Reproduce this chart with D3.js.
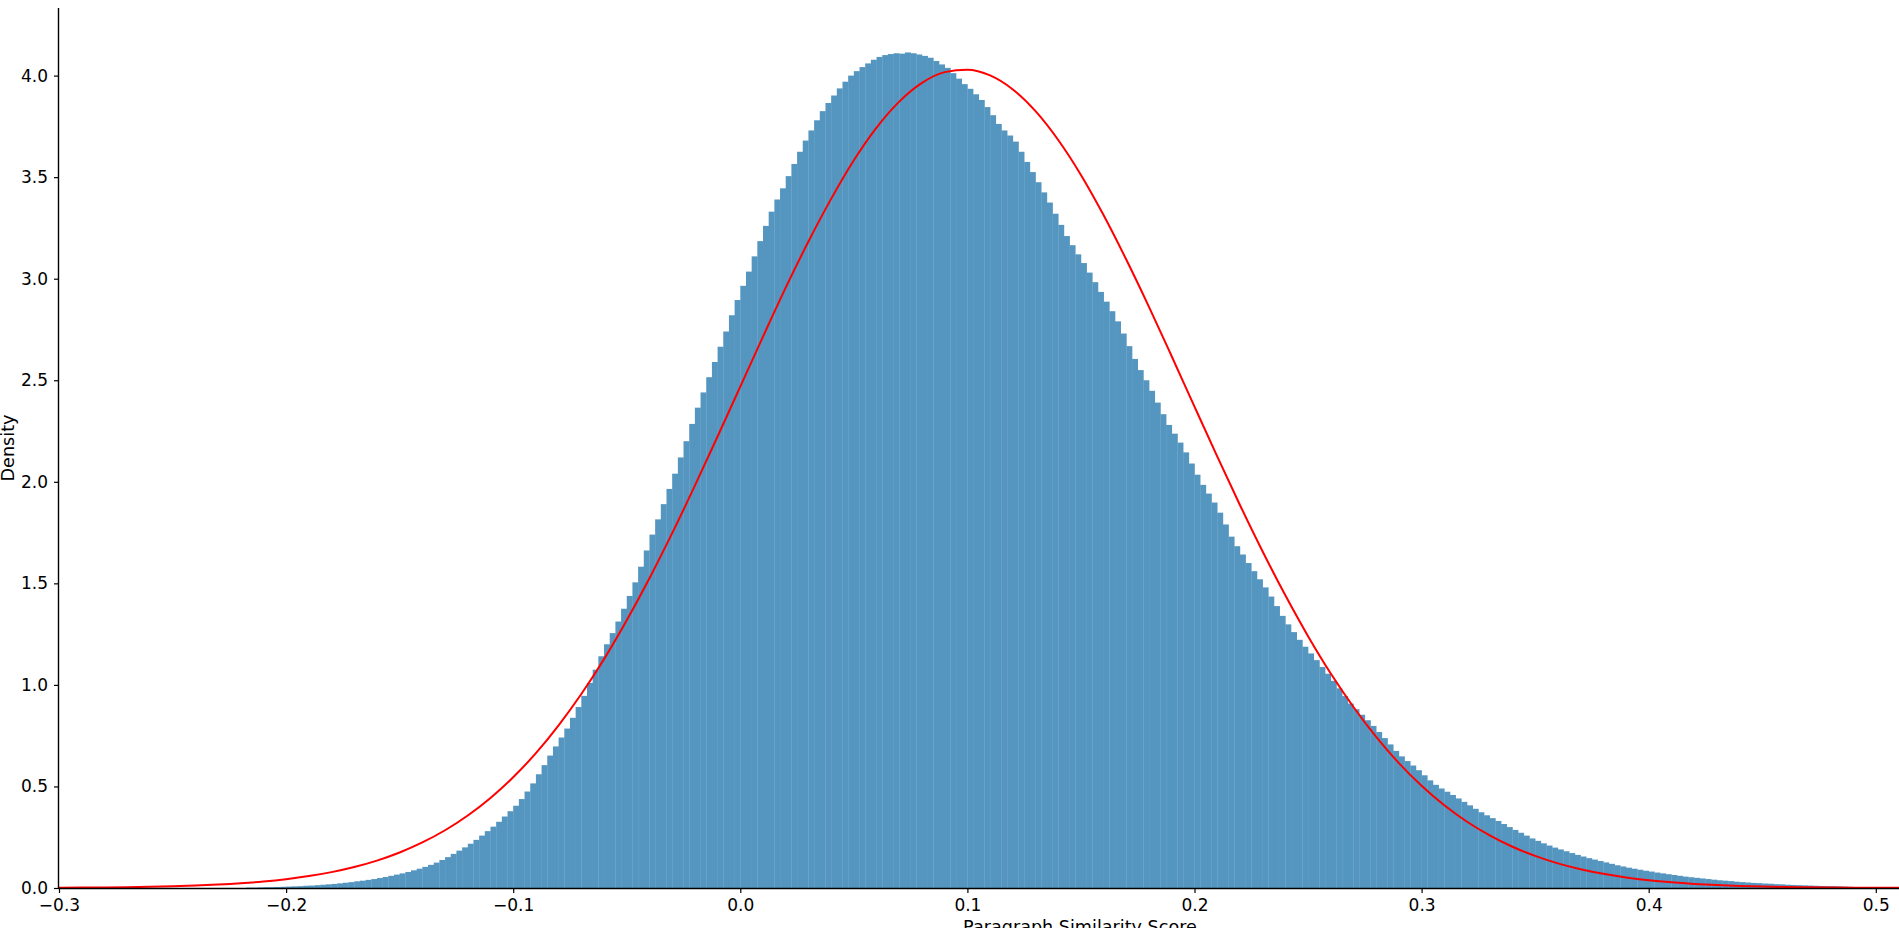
<!DOCTYPE html>
<html>
<head>
<meta charset="utf-8">
<script src="https://cdn.jsdelivr.net/npm/d3@7"></script>
<style>
  html, body { margin: 0; padding: 0; background: #ffffff; overflow: hidden; }
  svg { display: block; font-family: "DejaVu Sans", sans-serif; }
</style>
</head>
<body>
<svg id="chart" width="1899" height="928"></svg>
<script>
// ---------- DATA ----------
const binStart = -0.2175;
const binWidth = 0.0025;
const densities = [
  0.002,0.002,0.003,0.004,0.004,0.005,0.006,0.007,0.008,0.009,
  0.011,0.012,0.014,0.016,0.018,0.020,0.023,0.026,0.029,0.033,
  0.036,0.040,0.044,0.049,0.054,0.060,0.066,0.072,0.079,0.087,
  0.095,0.104,0.114,0.125,0.138,0.152,0.168,0.184,0.200,0.218,
  0.237,0.258,0.280,0.302,0.326,0.352,0.378,0.405,0.438,0.475,
  0.515,0.560,0.605,0.652,0.697,0.741,0.785,0.838,0.891,0.946,
  1.010,1.075,1.141,1.200,1.255,1.312,1.375,1.438,1.505,1.582,
  1.662,1.740,1.815,1.890,1.965,2.040,2.120,2.200,2.285,2.365,
  2.440,2.515,2.590,2.665,2.740,2.820,2.895,2.965,3.035,3.110,
  3.185,3.260,3.330,3.390,3.445,3.505,3.565,3.625,3.680,3.730,
  3.780,3.825,3.865,3.902,3.937,3.970,4.000,4.022,4.042,4.060,
  4.078,4.092,4.101,4.106,4.110,4.108,4.114,4.110,4.104,4.097,
  4.088,4.072,4.055,4.038,4.012,3.985,3.958,3.935,3.908,3.880,
  3.845,3.805,3.762,3.730,3.705,3.675,3.625,3.575,3.525,3.475,
  3.425,3.375,3.320,3.265,3.210,3.165,3.120,3.077,3.030,2.983,
  2.935,2.887,2.840,2.790,2.730,2.668,2.605,2.550,2.500,2.448,
  2.390,2.333,2.280,2.237,2.193,2.145,2.090,2.035,1.985,1.942,
  1.898,1.848,1.790,1.730,1.683,1.642,1.600,1.560,1.520,1.480,
  1.435,1.388,1.340,1.298,1.260,1.222,1.188,1.155,1.122,1.088,
  1.055,1.020,0.983,0.945,0.908,0.880,0.853,0.826,0.798,0.768,
  0.738,0.707,0.675,0.648,0.625,0.603,0.580,0.555,0.530,0.508,
  0.490,0.474,0.458,0.441,0.424,0.407,0.390,0.373,0.358,0.344,
  0.330,0.315,0.300,0.286,0.272,0.258,0.244,0.232,0.220,0.209,
  0.199,0.190,0.181,0.172,0.163,0.155,0.147,0.140,0.133,0.126,
  0.119,0.112,0.106,0.100,0.095,0.090,0.085,0.081,0.076,0.072,
  0.068,0.064,0.060,0.056,0.053,0.050,0.047,0.044,0.041,0.038,
  0.036,0.034,0.031,0.029,0.027,0.025,0.024,0.022,0.021,0.019,
  0.018,0.016,0.015,0.014,0.013,0.012,0.011,0.010,0.009,0.009,
  0.008,0.007,0.006,0.004
];

const curveX = [
  -0.30,-0.29,-0.28,-0.27,-0.26,-0.25,-0.24,-0.23,-0.22,-0.21,
  -0.20,-0.19,-0.18,-0.17,-0.16,-0.15,-0.14,-0.13,-0.12,-0.11,
  -0.10,-0.09,-0.08,-0.07,-0.06,-0.05,-0.04,-0.03,-0.02,-0.01,
   0.00, 0.01, 0.02, 0.03, 0.04, 0.05, 0.06, 0.07, 0.08, 0.09,
   0.10, 0.11, 0.12, 0.13, 0.14, 0.15, 0.16, 0.17, 0.18, 0.19,
   0.20, 0.21, 0.22, 0.23, 0.24, 0.25, 0.26, 0.27, 0.28, 0.29,
   0.30, 0.31, 0.32, 0.33, 0.34, 0.35, 0.36, 0.37, 0.38, 0.39,
   0.40, 0.41, 0.42, 0.43, 0.44, 0.45, 0.46, 0.47, 0.48, 0.49,
   0.50, 0.51, 0.52
];
const curveY = [
  0.0013,0.0019,0.0028,0.0040,0.0058,0.0084,0.0119,0.0167,0.0232,0.0319,
  0.0435,0.0586,0.0782,0.1033,0.1350,0.1749,0.2242,0.2843,0.3570,0.4435,
  0.5454,0.664,0.801,0.955,1.127,1.318,1.525,1.747,1.981,2.223,
  2.469,2.715,2.956,3.183,3.393,3.583,3.744,3.872,3.964,4.017,
  4.029,4.001,3.932,3.825,3.683,3.511,3.312,3.093,2.860,2.617,
  2.370,2.125,1.886,1.657,1.441,1.240,1.056,0.891,0.744,0.615,
  0.503,0.407,0.326,0.259,0.203,0.158,0.1214,0.0925,0.0697,0.0521,
  0.0384,0.0281,0.0203,0.0145,0.0103,0.0072,0.0050,0.0035,0.0024,0.0016,
  0.0011,0.0007,0.0005
];

const xTicks = [-0.3, -0.2, -0.1, 0.0, 0.1, 0.2, 0.3, 0.4, 0.5];
const yTicks = [0.0, 0.5, 1.0, 1.5, 2.0, 2.5, 3.0, 3.5, 4.0];
const xLabel = "Paragraph Similarity Score";
const yLabel = "Density";

// ---------- LAYOUT ----------
const plotLeft = 59, plotRight = 1899, plotTop = 8, plotBottom = 888;
const xMin = -0.3, xMax = -0.3 + (plotRight - plotLeft) / 2271;
const yMax = (plotBottom - plotTop) / 203.1;

const svg = d3.select("#chart");
const x = d3.scaleLinear().domain([xMin, xMax]).range([plotLeft, plotRight]);
const y = d3.scaleLinear().domain([0, yMax]).range([plotBottom, plotTop]);

const bins = densities.map((d, i) => ({
  x0: binStart + i * binWidth,
  x1: binStart + (i + 1) * binWidth,
  v: d
}));

// histogram bars
svg.append("g")
  .selectAll("rect")
  .data(bins)
  .join("rect")
  .attr("x", d => x(d.x0))
  .attr("width", d => Math.max(0.5, x(d.x1) - x(d.x0) + 0.3))
  .attr("y", d => y(d.v))
  .attr("height", d => y(0) - y(d.v))
  .attr("fill", "#5596c0");

// fitted curve
const pts = curveX.map((v, i) => [v, curveY[i]]);
svg.append("path")
  .datum(pts)
  .attr("fill", "none")
  .attr("stroke", "#ff0000")
  .attr("stroke-width", 2)
  .attr("d", d3.line().x(d => x(d[0])).y(d => y(d[1])).curve(d3.curveMonotoneX));

// axes
const fmtMinus = v => d3.format(".1f")(v).replace("-", "\u2212");
const xAxis = d3.axisBottom(x).tickValues(xTicks).tickFormat(fmtMinus).tickSize(5).tickPadding(6);
const yAxis = d3.axisLeft(y).tickValues(yTicks).tickFormat(fmtMinus).tickSize(5).tickPadding(6);

const gx = svg.append("g").attr("transform", `translate(0,${plotBottom})`).call(xAxis);
const gy = svg.append("g").attr("transform", `translate(${plotLeft},0)`).call(yAxis);

[gx, gy].forEach(g => {
  g.selectAll("text").attr("font-size", 17).attr("fill", "#000").attr("font-family", "DejaVu Sans");
  g.selectAll("line").attr("stroke", "#000").attr("stroke-width", 1.2);
  g.select(".domain").attr("stroke", "#000").attr("stroke-width", 1.4);
});
gx.select(".domain").attr("d", `M${plotLeft},0.5H${plotRight}`);
gy.select(".domain").attr("d", `M-0.5,${plotTop}V${plotBottom}`);

// axis labels
svg.append("text")
  .attr("x", 1080).attr("y", 933)
  .attr("text-anchor", "middle")
  .attr("font-size", 17.6)
  .text(xLabel);

svg.append("text")
  .attr("transform", `translate(14,${(plotTop + plotBottom) / 2}) rotate(-90)`)
  .attr("text-anchor", "middle")
  .attr("font-size", 17.6)
  .text(yLabel);
</script>
</body>
</html>
